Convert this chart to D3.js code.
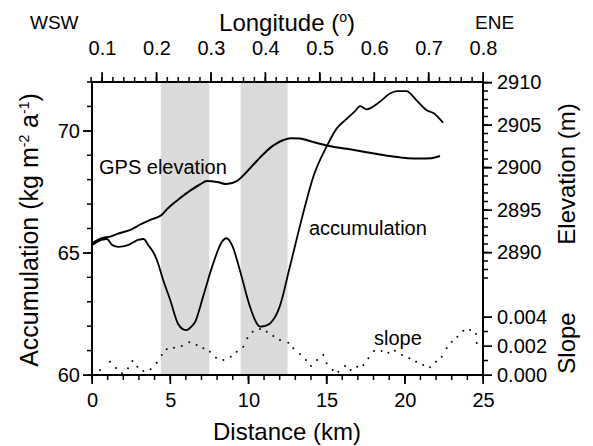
<!DOCTYPE html>
<html>
<head>
<meta charset="utf-8">
<script src="https://cdn.jsdelivr.net/npm/d3@7"></script>
<style>
  body { margin: 0; background: #fff; }
  svg { font-family: "Liberation Sans", Arial, sans-serif; }
  .tick text { font-size: 20px; fill: #000; }
</style>
</head>
<body>
<svg id="chart" width="593" height="446"></svg>
<script>
// shaded bands (km)
var bandStart = [4.4, 9.5];
var bandEnd = [7.5, 12.5];

// accumulation (kg m-2 a-1) against distance (km)
var accDist = [0, 0.6, 0.95, 1.3, 1.7, 2.3, 2.95, 3.3, 3.6, 3.9, 4.15, 4.55, 5.0, 5.5, 5.8, 6.05,
  6.3, 6.6, 7.1, 7.75, 8.3, 8.6, 9.0, 9.45, 10.1, 10.5, 10.75, 11.0, 11.4, 12.0, 12.65, 13.5,
  14.15, 15.0, 15.65, 16.3, 16.8, 17.15, 17.55, 18.4, 19.05, 19.5, 20.1, 20.75, 21.4, 21.8, 22.45];
var accVal = [65.32, 65.53, 65.57, 65.32, 65.25, 65.32, 65.53, 65.57, 65.32, 65.05, 64.71, 63.89,
  63.07, 62.1, 61.88, 61.84, 61.95, 62.18, 63.2, 64.57, 65.45, 65.6, 65.25, 64.3, 62.8, 62.15,
  61.98, 62.0, 62.12, 62.8, 64.43, 66.62, 68.12, 69.35, 70.1, 70.5, 70.8, 71.01, 70.88, 71.19,
  71.53, 71.63, 71.63, 71.25, 70.84, 70.74, 70.33];

// GPS elevation (m)
var elevDist = [0, 0.5, 1.2, 1.8, 2.5, 3.1, 3.8, 4.45, 4.8, 5.5, 6.3, 6.9, 7.35, 8.0, 8.6, 9.25,
  9.9, 10.55, 11.6, 12.2, 12.7, 13.3, 14.15, 15.0, 16.3, 17.55, 18.5, 19.25, 20.2, 21.0, 21.7, 22.25];
var elevVal = [2891.1, 2891.6, 2891.9, 2892.3, 2892.7, 2893.3, 2893.9, 2894.4, 2895.1, 2896.2,
  2897.3, 2898.0, 2898.4, 2898.3, 2898.05, 2898.4, 2899.5, 2900.8, 2902.6, 2903.2, 2903.45,
  2903.4, 2903.0, 2902.6, 2902.2, 2901.8, 2901.5, 2901.3, 2901.1, 2901.05, 2901.1, 2901.35];

// surface slope
var slopeDist = [0, 0.51, 1.15, 1.53, 1.92, 2.3, 2.58, 2.9, 3.28, 3.75, 4.14, 4.46, 4.78, 5.24,
  5.74, 6.22, 6.69, 7.12, 7.54, 7.93, 8.4, 8.87, 9.25, 9.67, 9.93, 10.27, 10.74, 11.17, 11.59,
  12.02, 12.55, 12.87, 13.3, 13.68, 14.0, 14.4, 14.79, 15.0, 15.39, 15.75, 16.18, 16.54, 16.96,
  17.35, 17.67, 18.03, 18.52, 18.95, 19.37, 19.82, 20.29, 20.72, 21.18, 21.61, 22.0, 22.36,
  22.68, 23.0, 23.36, 23.74, 24.17, 24.55, 24.6];
var slopeVal = [0.0002, 0.00034, 0.00092, 0.00048, 0.00012, 0.00046, 0.00097, 0.00057, 0.00028,
  0.00039, 0.00085, 0.00138, 0.00177, 0.00188, 0.002, 0.00226, 0.00207, 0.00184, 0.00161,
  0.00119, 0.00103, 0.00126, 0.00161, 0.00195, 0.00253, 0.00299, 0.00317, 0.00299, 0.00269,
  0.00241, 0.00223, 0.00184, 0.00145, 0.00103, 0.00062, 0.00103, 0.00138, 0.00081, 0.00034,
  0.00023, 0.00062, 0.00034, 0.00057, 0.00069, 0.00115, 0.00166, 0.00166, 0.00154, 0.00168,
  0.00138, 0.00115, 0.00092, 0.00069, 0.00053, 0.00092, 0.00126, 0.00184, 0.0023, 0.00264,
  0.00306, 0.0031, 0.00283, 0.0022];

// tick values
var distMajor = [0, 5, 10, 15, 20, 25];
var distMinor = d3.range(0, 26, 1);
var lonMajor = [0.1, 0.2, 0.3, 0.4, 0.5, 0.6, 0.7, 0.8];
var lonMinor = d3.range(4, 41).map(function (i) { return i * 0.02; });
var accMajor = [60, 65, 70];
var accMinor = d3.range(60, 73, 1);
var elevMajor = [2890, 2895, 2900, 2905, 2910];
var elevMinor = d3.range(2887, 2911, 1);
var slopeMajor = [0, 0.002, 0.004];
var slopeMinor = [0.001, 0.003];

var svg = d3.select('#chart');
var pLeft = 92, pRight = 483, pTop = 82, pBottom = 375;

var x = d3.scaleLinear().domain([0, 25]).range([pLeft, pRight]);
var lon = d3.scaleLinear().domain([0.1, 0.8]).range([102, pRight]);
var yAcc = d3.scaleLinear().domain([60, 72]).range([pBottom, pTop]);
var yElev = d3.scaleLinear().domain([2890, 2910]).range([252.5, 82.5]);
var ySlope = d3.scaleLinear().domain([0, 0.004]).range([pBottom, 317]);

// shaded bands
svg.append('g').selectAll('rect')
  .data(bandStart)
  .enter().append('rect')
    .attr('x', function (d) { return x(d); })
    .attr('y', pTop)
    .attr('width', function (d, i) { return x(bandEnd[i]) - x(d); })
    .attr('height', pBottom - pTop)
    .attr('fill', '#dadada');

// labels from d3 axes, tick marks drawn as thin rects
function addAxis(axis, tf, majorVals, fmt, pad) {
  var g = svg.append('g').attr('transform', tf)
    .call(axis.tickValues(majorVals).tickSize(9).tickPadding(pad).tickFormat(fmt));
  g.select('.domain').remove();
  g.attr('font-family', null).attr('font-size', null);
  return g;
}

function tickMarks(vals, scale, side, pos, len) {
  var horiz = side === 'top' || side === 'bottom';
  var dir = (side === 'top' || side === 'left') ? -1 : 1;
  var w = 1.5;
  svg.append('g').selectAll('rect')
    .data(vals)
    .enter().append('rect')
      .attr('x', function (d) { return horiz ? scale(d) - w / 2 : (dir < 0 ? pos - len : pos); })
      .attr('y', function (d) { return horiz ? (dir < 0 ? pos - len : pos) : scale(d) - w / 2; })
      .attr('width', horiz ? w : len)
      .attr('height', horiz ? len : w)
      .attr('fill', '#000');
}

addAxis(d3.axisBottom(x), 'translate(0,' + pBottom + ')', distMajor, d3.format('d'), 9);
addAxis(d3.axisTop(lon), 'translate(0,' + pTop + ')', lonMajor, d3.format('.1f'), 18);
addAxis(d3.axisLeft(yAcc), 'translate(' + pLeft + ',0)', accMajor, d3.format('d'), 3);
addAxis(d3.axisRight(yElev), 'translate(' + pRight + ',0)', elevMajor, d3.format('d'), 5);
addAxis(d3.axisRight(ySlope), 'translate(' + pRight + ',0)', slopeMajor, d3.format('.3f'), 5);

tickMarks(distMinor, x, 'bottom', pBottom, 5);
tickMarks(distMajor, x, 'bottom', pBottom, 9);
tickMarks(lonMinor, lon, 'top', pTop, 5);
tickMarks(lonMajor, lon, 'top', pTop, 10);
tickMarks(accMinor, yAcc, 'left', pLeft, 5);
tickMarks(accMajor, yAcc, 'left', pLeft, 9);
tickMarks(elevMinor, yElev, 'right', pRight, 5);
tickMarks(elevMajor, yElev, 'right', pRight, 9);
tickMarks(slopeMinor, ySlope, 'right', pRight, 5);
tickMarks(slopeMajor, ySlope, 'right', pRight, 9);

// curves
var accLine = d3.line()
  .x(function (d) { return x(d); })
  .y(function (d, i) { return yAcc(accVal[i]); })
  .curve(d3.curveMonotoneX);
var elevLine = d3.line()
  .x(function (d) { return x(d); })
  .y(function (d, i) { return yElev(elevVal[i]); })
  .curve(d3.curveMonotoneX);

svg.append('path')
  .attr('d', elevLine(elevDist))
  .attr('fill', 'none').attr('stroke', '#000').attr('stroke-width', 2);
svg.append('path')
  .attr('d', accLine(accDist))
  .attr('fill', 'none').attr('stroke', '#000').attr('stroke-width', 1.8);

svg.append('g').selectAll('circle')
  .data(slopeDist)
  .enter().append('circle')
    .attr('cx', function (d) { return x(d); })
    .attr('cy', function (d, i) { return ySlope(slopeVal[i]); })
    .attr('r', 1)
    .attr('fill', '#000');

// frame
svg.append('rect')
  .attr('x', pLeft).attr('y', pTop)
  .attr('width', pRight - pLeft).attr('height', pBottom - pTop)
  .attr('fill', 'none').attr('stroke', '#000').attr('stroke-width', 2);

// labels
function label(txt, px, py, size, anchor) {
  return svg.append('text').attr('x', px).attr('y', py)
    .attr('font-size', size).attr('text-anchor', anchor || 'start').text(txt);
}
label('WSW', 30, 29, 19);
label('ENE', 475, 29, 19);
var lt = label('', 287, 31, 24, 'middle');
lt.append('tspan').text('Longitude (');
lt.append('tspan').attr('font-size', 14).attr('dy', -9).text('o');
lt.append('tspan').attr('dy', 9).text(')');

label('GPS elevation', 99, 174, 20);
label('accumulation', 309, 235, 20);
label('slope', 374, 345, 20);
label('Distance (km)', 287, 440, 24, 'middle');

var at = svg.append('text')
  .attr('transform', 'translate(38,230) rotate(-90)')
  .attr('text-anchor', 'middle').attr('font-size', 25);
at.append('tspan').text('Accumulation (kg m');
at.append('tspan').attr('font-size', 14).attr('dy', -9).text('-2');
at.append('tspan').attr('dy', 9).text(' a');
at.append('tspan').attr('font-size', 14).attr('dy', -9).text('-1');
at.append('tspan').attr('dy', 9).text(')');

svg.append('text')
  .attr('transform', 'translate(575,174) rotate(-90)')
  .attr('text-anchor', 'middle').attr('font-size', 24).text('Elevation (m)');
svg.append('text')
  .attr('transform', 'translate(575,343) rotate(-90)')
  .attr('text-anchor', 'middle').attr('font-size', 24).text('Slope');
</script>
</body>
</html>
